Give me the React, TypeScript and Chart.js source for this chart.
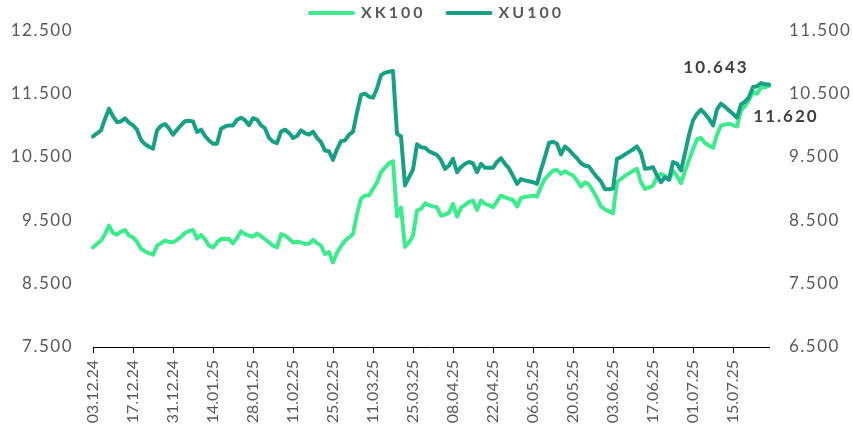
import React, { useEffect, useRef } from "react";
import { Chart, registerables } from "chart.js";

Chart.register(...registerables);

const SERIES_NAMES = ["XK100", "XU100"];
const START_DATE = [2024, 11, 3]; // 03.12.24, weekdays only
const TICK_EVERY = 10;

const LEFT_MIN = 7500;
const LEFT_MAX = 12500;
const RIGHT_MIN = 6500;
const RIGHT_MAX = 11500;
const STEP = 1000;

const XK100 = [
  9072, 9130, 9178, 9284, 9415, 9300, 9273, 9320, 9347, 9260,
  9230, 9160, 9050, 9010, 8980, 8956, 9099, 9140, 9178, 9160,
  9151, 9190, 9240, 9300, 9330, 9347, 9210, 9270, 9200, 9100,
  9072, 9151, 9205, 9210, 9205, 9135, 9220, 9325, 9280, 9257,
  9240, 9290, 9250, 9200, 9151, 9100, 9072, 9280, 9257, 9210,
  9150, 9160, 9150, 9126, 9130, 9190, 9140, 9099, 8967, 9000,
  8834, 8990, 9090, 9178, 9230, 9285, 9600, 9840, 9890, 9890,
  9996, 10100, 10258, 10330, 10400, 10432, 9560, 9700, 9080, 9151,
  9257, 9652, 9679, 9768, 9740, 9720, 9705, 9573, 9590, 9620,
  9758, 9557, 9700, 9740, 9790, 9811, 9663, 9811, 9760, 9740,
  9705, 9800, 9890, 9863, 9840, 9822, 9716, 9853, 9870, 9874,
  9890, 9874, 10032, 10154, 10220, 10285, 10296, 10233, 10274, 10240,
  10206, 10127, 10032, 10100, 10064, 9960, 9850, 9720, 9670, 9640,
  9610, 10100, 10154, 10200, 10240, 10280, 10312, 10100, 9996, 10020,
  10048, 10180, 10233, 10200, 10138, 10280, 10200, 10084, 10280, 10450,
  10620, 10780, 10800, 10720, 10680, 10644, 10850, 10997, 11010, 11024,
  11000, 10981, 11234, 11300, 11400, 11524, 11499, 11594, 11600, 11620,
];

const XU100 = [
  9823, 9870, 9920, 10100, 10261, 10140, 10050, 10060, 10110, 10040,
  9997, 9930, 9770, 9700, 9660, 9630, 9920, 9990, 10020, 9950,
  9850, 9930, 10000, 10065, 10070, 10060, 9895, 9930, 9830, 9760,
  9708, 9708, 9945, 9980, 9997, 9997, 10087, 10119, 10080, 10000,
  10110, 10090, 10000, 9950, 9800, 9740, 9717, 9900, 9930, 9880,
  9800, 9830, 9918, 9875, 9850, 9900, 9800, 9733, 9600, 9590,
  9454, 9620, 9749, 9760, 9850, 9900, 10200, 10480, 10500, 10450,
  10435, 10580, 10790, 10830, 10845, 10856, 9866, 9823, 9050, 9180,
  9300, 9700, 9654, 9644, 9590, 9560, 9530, 9450, 9312, 9364,
  9470, 9258, 9340, 9390, 9420, 9400, 9260, 9391, 9328, 9328,
  9328, 9420, 9480, 9391, 9320, 9200, 9075, 9150, 9130, 9116,
  9100, 9075, 9300, 9500, 9720, 9740, 9708, 9540, 9665, 9613,
  9540, 9480, 9400, 9360, 9348, 9260, 9180, 9110, 8990, 8990,
  9000, 9470, 9496, 9540, 9580, 9620, 9665, 9560, 9312, 9320,
  9337, 9206, 9100, 9179, 9140, 9420, 9391, 9285, 9560, 9850,
  10076, 10180, 10245, 10180, 10100, 9997, 10250, 10340, 10290, 10234,
  10180, 10119, 10330, 10370, 10445, 10603, 10614, 10666, 10646, 10643,
];

const XK_COLOR = "#3CEB8C";
const XU_COLOR = "#17A085";
const TEXT_COLOR = "#595959";
const LABEL_COLOR = "#3F3F3F";
const FONT = "Lato, 'Open Sans', sans-serif";

function pad2(n: number): string {
  return n < 10 ? "0" + n : String(n);
}

function makeDateLabels(count: number): string[] {
  const out: string[] = [];
  const d = new Date(START_DATE[0], START_DATE[1], START_DATE[2]);
  while (out.length < count) {
    const wd = d.getDay();
    if (wd !== 0 && wd !== 6) {
      out.push(pad2(d.getDate()) + "." + pad2(d.getMonth() + 1) + "." + String(d.getFullYear()).slice(2));
    }
    d.setDate(d.getDate() + 1);
  }
  return out;
}

function fmt(v: number): string {
  return String(Math.round(v)).replace(/\B(?=(\d{3})+(?!\d))/g, ".");
}

const LABELS = makeDateLabels(XU100.length);

const overlayPlugin = {
  id: "overlay",
  beforeDraw(chart: any) {
    // wider letter spacing for the value axes' labels only
    ["y", "y1"].forEach((id) => {
      const sc = chart.scales[id];
      if (sc && !sc.__spaced) {
        const orig = sc.drawLabels.bind(sc);
        sc.drawLabels = (area: any) => {
          const c = chart.ctx as any;
          c.save();
          c.letterSpacing = "1.5px";
          orig(area);
          c.restore();
        };
        sc.__spaced = true;
      }
    });
  },
  afterDraw(chart: any) {
    const ctx = chart.ctx as CanvasRenderingContext2D;
    const area = chart.chartArea;
    ctx.save();
    // legend
    ctx.font = "bold 16px " + FONT;
    (ctx as any).letterSpacing = "3px";
    const items = [
      { label: SERIES_NAMES[0], color: XK_COLOR },
      { label: SERIES_NAMES[1], color: XU_COLOR },
    ];
    const sample = 47;
    const gap = 6;
    const itemGap = 20;
    const widths = items.map((it) => ctx.measureText(it.label).width);
    let total = 0;
    widths.forEach((w, i) => {
      total += sample + gap + w + (i > 0 ? itemGap : 0);
    });
    let x = (area.left + area.right) / 2 + 5 - total / 2;
    const y = 13;
    items.forEach((it, i) => {
      ctx.strokeStyle = it.color;
      ctx.lineWidth = 4;
      ctx.lineCap = "round";
      ctx.beginPath();
      ctx.moveTo(x + 2, y);
      ctx.lineTo(x + sample - 2, y);
      ctx.stroke();
      x += sample + gap;
      ctx.fillStyle = TEXT_COLOR;
      ctx.textAlign = "left";
      ctx.textBaseline = "middle";
      ctx.fillText(it.label, x, y);
      x += widths[i] + itemGap;
    });

    // end value labels
    const last = XU100.length - 1;
    const px = chart.scales.x.getPixelForValue(last);
    const yU = chart.scales.y1.getPixelForValue(XU100[last]);
    const yK = chart.scales.y.getPixelForValue(XK100[last]);
    ctx.font = "bold 17px " + FONT;
    (ctx as any).letterSpacing = "2px";
    ctx.fillStyle = LABEL_COLOR;
    ctx.textAlign = "center";
    ctx.textBaseline = "middle";
    ctx.fillText(fmt(XU100[last]), px - 53, yU - 17);
    ctx.fillText(fmt(XK100[last]), px + 17, yK + 31);
    ctx.restore();
  },
};

export default function App() {
  const canvasRef = useRef<HTMLCanvasElement | null>(null);

  useEffect(() => {
    const canvas = canvasRef.current;
    if (!canvas) return;
    const chart = new Chart(canvas, {
      type: "line",
      data: {
        labels: LABELS,
        datasets: [
          {
            label: SERIES_NAMES[1],
            data: XU100,
            yAxisID: "y1",
            borderColor: XU_COLOR,
            backgroundColor: XU_COLOR,
            borderWidth: 4,
            pointRadius: 0,
            tension: 0,
            borderJoinStyle: "round",
            borderCapStyle: "round",
          },
          {
            label: SERIES_NAMES[0],
            data: XK100,
            yAxisID: "y",
            borderColor: XK_COLOR,
            backgroundColor: XK_COLOR,
            borderWidth: 4,
            pointRadius: 0,
            tension: 0,
            borderJoinStyle: "round",
            borderCapStyle: "round",
          },
        ],
      },
      options: {
        responsive: false,
        animation: false,
        devicePixelRatio: 1,
        layout: { padding: { top: 30, left: 0, right: 0, bottom: 0 } },
        plugins: {
          legend: { display: false },
          tooltip: { enabled: false },
        },
        scales: {
          x: {
            type: "category",
            offset: false,
            grid: {
              display: true,
              drawOnChartArea: false,
              drawTicks: true,
              tickLength: 6,
              color: "#000000",
              lineWidth: 1,
            },
            border: { display: true, color: "#000000", width: 1 },
            ticks: {
              autoSkip: false,
              minRotation: 90,
              maxRotation: 90,
              padding: 7,
              color: TEXT_COLOR,
              font: { family: FONT, size: 16 },
              callback: (_v: any, i: number) => (i % TICK_EVERY === 0 ? LABELS[i] : null),
            },
            afterFit: (s: any) => {
              s.height = 87;
            },
          },
          y: {
            position: "left",
            min: LEFT_MIN,
            max: LEFT_MAX,
            grid: { display: false, drawTicks: false },
            border: { display: false },
            ticks: {
              stepSize: STEP,
              padding: 20,
              color: TEXT_COLOR,
              font: { family: FONT, size: 17 },
              callback: (v: any) => fmt(Number(v)),
            },
            afterFit: (s: any) => {
              s.width = 93;
            },
          },
          y1: {
            position: "right",
            min: RIGHT_MIN,
            max: RIGHT_MAX,
            grid: { display: false, drawTicks: false },
            border: { display: false },
            ticks: {
              stepSize: STEP,
              padding: 20,
              color: TEXT_COLOR,
              font: { family: FONT, size: 17 },
              callback: (v: any) => fmt(Number(v)),
            },
            afterFit: (s: any) => {
              s.width = 84;
            },
          },
        },
      },
      plugins: [overlayPlugin],
    } as any);
    return () => chart.destroy();
  }, []);

  return (
    <div style={{ position: "absolute", left: 0, top: 0, width: 853, height: 434, background: "#fff" }}>
      <canvas ref={canvasRef} width={853} height={434} style={{ display: "block" }} />
    </div>
  );
}
